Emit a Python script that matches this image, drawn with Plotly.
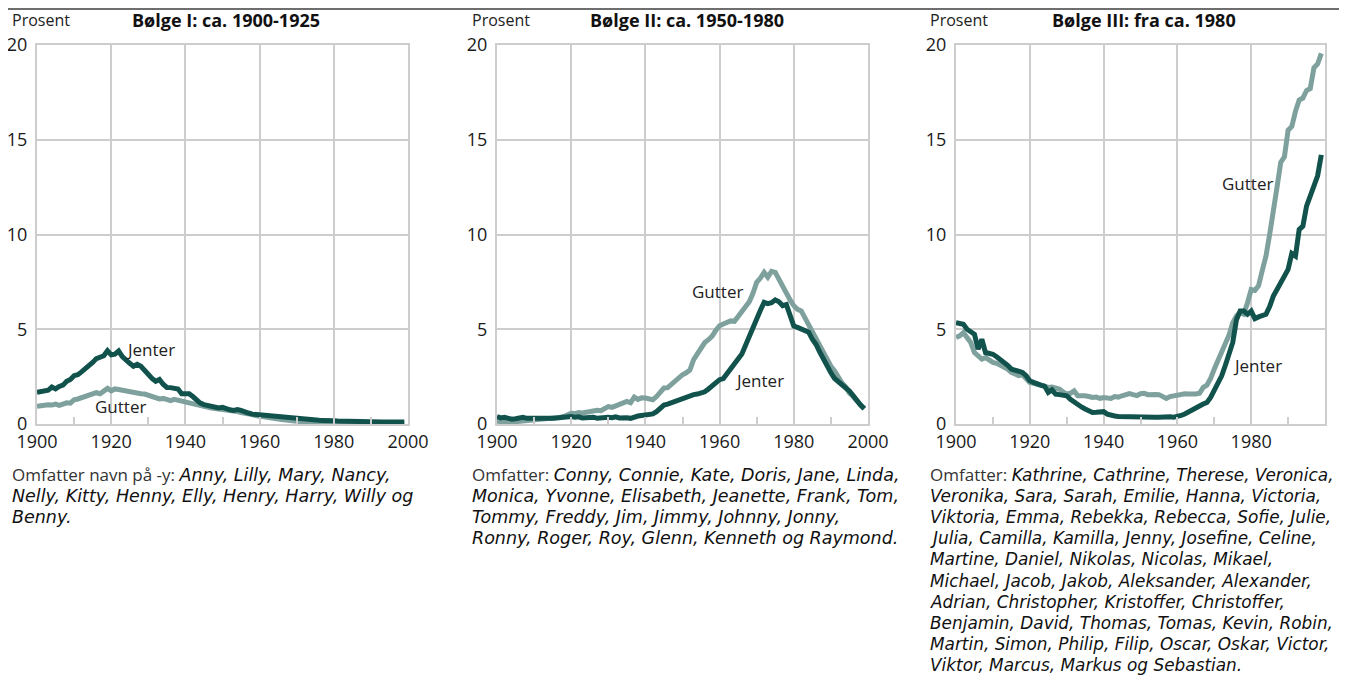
import plotly.graph_objects as go

# årstall 1900-1999
years = list(range(1900, 2000))

# Bølge I
b1_jenter = [1.67, 1.72, 1.75, 1.78, 1.95, 1.85, 1.98, 2.05, 2.25, 2.35,
             2.55, 2.6, 2.75, 2.9, 3.05, 3.25, 3.45, 3.5, 3.6, 3.87,
             3.65, 3.68, 3.85, 3.55, 3.35, 3.2, 3.05, 3.15, 3.05, 2.8,
             2.55, 2.4, 2.25, 2.35, 2.1, 1.93, 1.92, 1.9, 1.85, 1.6,
             1.58, 1.6, 1.45, 1.25, 1.1, 1.02, 0.98, 0.92, 0.9, 0.85,
             0.88, 0.8, 0.75, 0.72, 0.76, 0.72, 0.68, 0.58, 0.52, 0.5,
             0.49, 0.46, 0.43, 0.4, 0.38, 0.36, 0.35, 0.33, 0.32, 0.3,
             0.3, 0.27, 0.25, 0.24, 0.22, 0.2, 0.2, 0.19, 0.2, 0.18,
             0.17, 0.16, 0.15, 0.14, 0.14, 0.13, 0.12, 0.12, 0.11, 0.11,
             0.1, 0.1, 0.1, 0.1, 0.11, 0.12, 0.12, 0.13, 0.12, 0.1]
b1_gutter = [0.93, 0.98, 0.97, 1.02, 1.0, 1.05, 0.98, 1.08, 1.12, 1.1,
             1.28, 1.32, 1.38, 1.45, 1.52, 1.55, 1.65, 1.6, 1.72, 1.88,
             1.75, 1.85, 1.82, 1.78, 1.72, 1.67, 1.62, 1.6, 1.6, 1.58,
             1.53, 1.45, 1.4, 1.32, 1.35, 1.3, 1.23, 1.3, 1.25, 1.18,
             1.14, 1.1, 1.05, 1.0, 0.95, 0.88, 0.86, 0.84, 0.82, 0.8,
             0.76, 0.74, 0.72, 0.7, 0.66, 0.6, 0.58, 0.55, 0.5, 0.44,
             0.4, 0.37, 0.34, 0.31, 0.29, 0.26, 0.24, 0.2, 0.18, 0.16,
             0.14, 0.12, 0.1, 0.09, 0.08, 0.07, 0.06, 0.06, 0.05, 0.05,
             0.05, 0.05, 0.04, 0.04, 0.04, 0.04, 0.04, 0.04, 0.04, 0.04,
             0.03, 0.03, 0.03, 0.03, 0.03, 0.03, 0.03, 0.03, 0.03, 0.03]

# Bølge II
b2_jenter = [0.39, 0.32, 0.35, 0.3, 0.25, 0.28, 0.3, 0.35, 0.3, 0.3,
             0.3, 0.28, 0.25, 0.28, 0.3, 0.3, 0.32, 0.35, 0.38, 0.35,
             0.39, 0.36, 0.38, 0.32, 0.35, 0.33, 0.36, 0.3, 0.33, 0.35,
             0.36, 0.33, 0.38, 0.32, 0.35, 0.33, 0.3, 0.38, 0.42, 0.45,
             0.48, 0.5, 0.53, 0.65, 0.8, 1.0, 1.05, 1.12, 1.2, 1.28,
             1.36, 1.45, 1.5, 1.55, 1.58, 1.63, 1.7, 1.85, 2.0, 2.15,
             2.34, 2.4, 2.65, 2.87, 3.1, 3.4, 3.7, 4.15, 4.64, 5.0,
             5.53, 6.0, 6.42, 6.35, 6.4, 6.55, 6.45, 6.24, 6.3, 5.7,
             5.17, 5.1, 5.0, 4.96, 4.85, 4.47, 4.2, 3.8, 3.4, 3.0,
             2.7, 2.4, 2.25, 2.1, 1.9, 1.74, 1.5, 1.2, 1.0, 0.8]
b2_gutter = [0.15, 0.12, 0.1, 0.08, 0.1, 0.12, 0.1, 0.15, 0.18, 0.2,
             0.2, 0.22, 0.2, 0.25, 0.28, 0.3, 0.32, 0.35, 0.4, 0.48,
             0.57, 0.55, 0.6, 0.58, 0.62, 0.65, 0.7, 0.72, 0.7, 0.82,
             0.92, 0.88, 0.95, 1.0, 1.08, 1.19, 1.12, 1.42, 1.3, 1.38,
             1.37, 1.32, 1.28, 1.45, 1.7, 1.9, 1.92, 2.1, 2.3, 2.45,
             2.6, 2.7, 2.85, 3.4, 3.7, 4.03, 4.3, 4.45, 4.64, 4.95,
             5.18, 5.28, 5.35, 5.44, 5.42, 5.7, 5.95, 6.23, 6.45, 6.9,
             7.48, 7.7, 8.0, 7.75, 8.05, 8.0, 7.6, 7.2, 6.9, 6.55,
             6.24, 6.05, 5.97, 5.6, 5.2, 4.9, 4.6, 4.2, 3.85, 3.4,
             3.05, 2.8, 2.45, 2.16, 1.95, 1.63, 1.45, 1.19, 1.0, 0.83]

# Bølge III
b3_jenter = [5.35, 5.32, 5.26, 5.0, 4.9, 4.74, 3.95, 4.47, 3.77, 3.75,
             3.68, 3.55, 3.42, 3.3, 3.1, 2.9, 2.85, 2.8, 2.72, 2.55,
             2.28, 2.2, 2.1, 2.05, 2.0, 1.67, 1.8, 1.58, 1.55, 1.5,
             1.49, 1.3, 1.14, 1.05, 0.9, 0.79, 0.7, 0.61, 0.62, 0.62,
             0.65, 0.52, 0.44, 0.42, 0.4, 0.4, 0.42, 0.38, 0.4, 0.38,
             0.39, 0.38, 0.4, 0.37, 0.36, 0.35, 0.37, 0.36, 0.38, 0.36,
             0.39, 0.45, 0.53, 0.65, 0.75, 0.88, 0.95, 1.05, 1.14, 1.4,
             1.75, 2.1, 2.54, 3.1, 3.77, 4.3, 5.5, 5.96, 5.96, 5.79,
             5.96, 5.56, 5.65, 5.7, 5.79, 6.2, 6.75, 7.1, 7.46, 7.8,
             8.16, 9.0, 8.86, 10.26, 10.44, 11.5, 12.0, 12.54, 13.1, 14.2]
b3_gutter = [4.56, 4.65, 4.82, 4.6, 4.3, 3.77, 3.6, 3.42, 3.5, 3.35,
             3.25, 3.2, 3.1, 3.05, 2.9, 2.72, 2.6, 2.55, 2.6, 2.4,
             2.19, 2.15, 2.1, 2.0, 1.95, 1.93, 1.95, 1.9, 1.84, 1.7,
             1.58, 1.62, 1.75, 1.49, 1.5, 1.49, 1.45, 1.4, 1.42, 1.35,
             1.4, 1.38, 1.35, 1.45, 1.42, 1.49, 1.52, 1.6, 1.55, 1.5,
             1.6, 1.62, 1.55, 1.58, 1.56, 1.55, 1.42, 1.35, 1.45, 1.5,
             1.53, 1.55, 1.6, 1.58, 1.55, 1.58, 1.62, 1.93, 2.05, 2.4,
             2.9, 3.35, 3.75, 4.12, 4.7, 5.35, 5.7, 5.88, 5.8, 6.4,
             7.1, 7.05, 7.3, 8.1, 8.86, 10.0, 11.1, 12.5, 13.8, 14.1,
             15.5, 15.7, 16.5, 17.1, 17.2, 17.6, 17.7, 18.8, 19.0, 19.56]

titles = ["Bølge I: ca. 1900-1925", "Bølge II: ca. 1950-1980", "Bølge III: fra ca. 1980"]
y_ticks = [0, 5, 10, 15, 20]
x_ticks = [1900, 1920, 1940, 1960, 1980, 2000]

footnotes = [
    [("Omfatter navn på -y: ", "Anny, Lilly, Mary, Nancy,"),
     ("", "Nelly, Kitty, Henny, Elly, Henry, Harry, Willy og"),
     ("", "Benny.")],
    [("Omfatter: ", "Conny, Connie, Kate, Doris, Jane, Linda,"),
     ("", "Monica, Yvonne, Elisabeth, Jeanette, Frank, Tom,"),
     ("", "Tommy, Freddy, Jim, Jimmy, Johnny, Jonny,"),
     ("", "Ronny, Roger, Roy, Glenn, Kenneth og Raymond.")],
    [("Omfatter: ", "Kathrine, Cathrine, Therese, Veronica,"),
     ("", "Veronika, Sara, Sarah, Emilie, Hanna, Victoria,"),
     ("", "Viktoria, Emma, Rebekka, Rebecca, Sofie, Julie,"),
     ("", "Julia, Camilla, Kamilla, Jenny, Josefine, Celine,"),
     ("", "Martine, Daniel, Nikolas, Nicolas, Mikael,"),
     ("", "Michael, Jacob, Jakob, Aleksander, Alexander,"),
     ("", "Adrian, Christopher, Kristoffer, Christoffer,"),
     ("", "Benjamin, David, Thomas, Tomas, Kevin, Robin,"),
     ("", "Martin, Simon, Philip, Filip, Oscar, Oskar, Victor,"),
     ("", "Viktor, Marcus, Markus og Sebastian.")],
]

# etikett-posisjoner (år, prosent)
label_pos = [
    {"Jenter": (1930.5, 3.95), "Gutter": (1922.5, 0.9)},
    {"Gutter": (1959.5, 7.0), "Jenter": (1970.8, 2.3)},
    {"Gutter": (1979.0, 12.7), "Jenter": (1981.6, 3.1)},
]

# siden har 8px marg rundt figuren, så figuren gjøres 16px mindre enn vinduet
OFF = 8
W, H = 1347 - 2 * OFF, 683 - 2 * OFF
FONT = "Open Sans"
NAME_FONT = "DejaVu Sans"
DARK = "#11524c"
LIGHT = "#7ea19d"
GRID = "#cdcdcd"


def px(x):
    return (x - OFF) / W


def py(y):
    return 1 - (y - OFF) / H


# plott-områder i vinduspiksler
panels_x = [(37, 408), (497, 868), (956, 1325)]
plot_top, plot_bottom = 45, 424
text_left = [10, 470, 928]
title_left = [130, 588, 1050]
name_size = [17.5, 17.5, 16.9]  # siste panel må få plass innenfor høyrekanten

series = [(b1_jenter, b1_gutter), (b2_jenter, b2_gutter), (b3_jenter, b3_gutter)]

fig = go.Figure()
annotations = []

for i, (jenter, gutter) in enumerate(series):
    n = "" if i == 0 else str(i + 1)
    xa, ya = "x" + n, "y" + n
    fig.add_trace(go.Scatter(x=years, y=gutter, mode="lines", xaxis=xa, yaxis=ya,
                             line=dict(color=LIGHT, width=5), showlegend=False))
    fig.add_trace(go.Scatter(x=years, y=jenter, mode="lines", xaxis=xa, yaxis=ya,
                             line=dict(color=DARK, width=5), showlegend=False))

    x0, x1 = panels_x[i]
    fig.update_layout(**{
        "xaxis" + n: dict(
            domain=[px(x0), px(x1)], anchor=ya, range=[1900, 2000],
            tickmode="array", tickvals=x_ticks,
            ticks="inside", ticklen=7, tickwidth=2, tickcolor=GRID,
            minor=dict(tickmode="linear", tick0=1900, dtick=10, ticks="inside",
                       ticklen=7, tickwidth=2, tickcolor=GRID, showgrid=False),
            showgrid=True, gridcolor=GRID, gridwidth=2,
            showline=True, mirror=True, linecolor=GRID, linewidth=2,
            zeroline=False, fixedrange=True, automargin=False,
            tickfont=dict(family=FONT, size=18, color="#1a1a1a"),
        ),
        "yaxis" + n: dict(
            domain=[py(plot_bottom), py(plot_top)], anchor=xa, range=[0, 20],
            tickmode="array", tickvals=y_ticks, ticks="",
            showgrid=True, gridcolor=GRID, gridwidth=2,
            showline=True, mirror=True, linecolor=GRID, linewidth=2,
            zeroline=False, fixedrange=True, automargin=False,
            ticklabelstandoff=4,
            tickfont=dict(family=FONT, size=18, color="#1a1a1a"),
        ),
    })

    # Prosent + tittel
    annotations.append(dict(text="Prosent", x=px(text_left[i]), y=py(20), xref="paper", yref="paper",
                            xanchor="left", yanchor="middle", showarrow=False,
                            font=dict(family=FONT, size=16, color="#222")))
    annotations.append(dict(text="<b>" + titles[i] + "</b>", x=px(title_left[i]), y=py(20),
                            xref="paper", yref="paper", xanchor="left", yanchor="middle",
                            showarrow=False, font=dict(family=FONT, size=18, color="#111")))

    # linjeetiketter
    for name, (lx, ly) in label_pos[i].items():
        annotations.append(dict(text=name, x=lx, y=ly, xref=xa, yref=ya, showarrow=False,
                                xanchor="center", yanchor="middle",
                                font=dict(family=FONT, size=17, color="#222")))

    # fotnote, én linje om gangen
    for k, (pre, names) in enumerate(footnotes[i]):
        txt = ('<span style="color:#333">' + pre + '</span>' if pre else "") + \
              '<span style="font-family:' + NAME_FONT + ';font-size:' + str(name_size[i]) + 'px"><i>' + \
              names + '</i></span>'
        annotations.append(dict(text=txt, x=px(text_left[i]), y=py(474.5 + k * 21.2),
                                xref="paper", yref="paper", xanchor="left", yanchor="middle",
                                showarrow=False, font=dict(family=FONT, size=17, color="#111")))

fig.update_layout(
    width=W, height=H,
    margin=dict(l=0, r=0, t=0, b=0),
    plot_bgcolor="#fff", paper_bgcolor="#fff",
    annotations=annotations,
    shapes=[dict(type="line", xref="paper", yref="paper", x0=0, x1=1, y0=py(9), y1=py(9),
                 line=dict(color="#6e6e6e", width=2))],
)

fig.write_html("out.html")
